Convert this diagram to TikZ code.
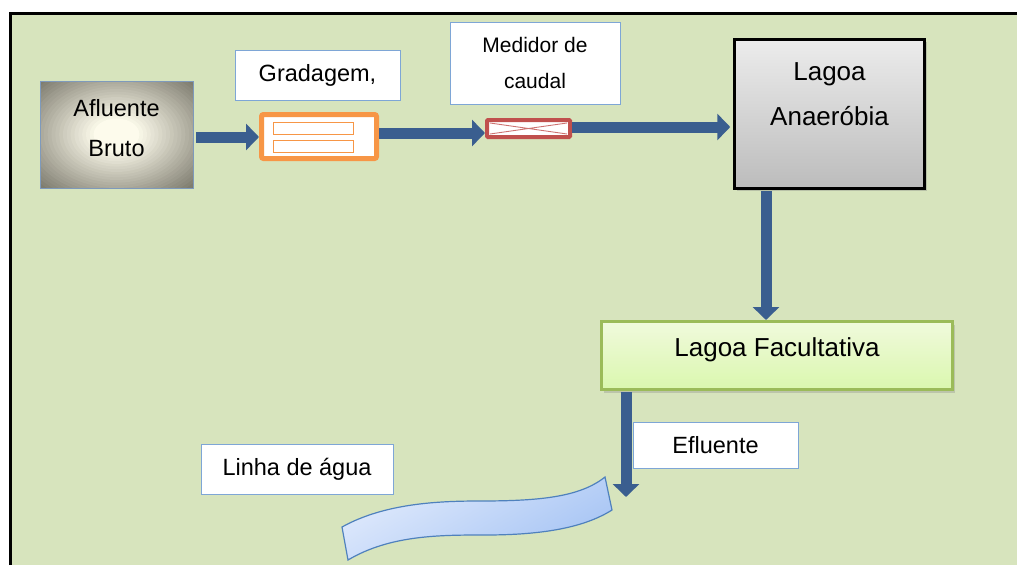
\documentclass[tikz,border=0pt]{standalone}
\usepackage{fontspec}
\setmainfont{Liberation Sans}
\usetikzlibrary{arrows.meta,shadows,calc}
\definecolor{bg}{RGB}{215,228,189}
\definecolor{arr}{RGB}{58,94,143}
\definecolor{lblb}{RGB}{126,166,214}
\definecolor{org}{RGB}{247,150,70}
\definecolor{redb}{RGB}{192,80,77}
\definecolor{grnb}{RGB}{155,187,89}
\definecolor{ribb}{RGB}{79,129,189}
\definecolor{ribl}{RGB}{224,234,252}
\definecolor{ribd}{RGB}{166,196,244}
\definecolor{vigA}{RGB}{253,251,236}
\definecolor{vigD}{RGB}{122,120,107}
\begin{document}
\begin{tikzpicture}[x=1pt,y=-1pt,
  lbl/.style={draw=lblb, line width=0.9pt, fill=white, inner sep=0pt, align=center,
    font=\fontsize{23.5}{38}\selectfont},
  flow/.style={draw=arr, line width=11pt, -{Triangle[length=13pt,width=26pt]}},
  lagoa/.style={inner sep=0pt, align=center, font=\fontsize{26}{45}\selectfont},
  vignette/.style={path picture={
    \foreach \k in {0,...,29}{
      \pgfmathsetmacro\rr{1.5-0.05*\k}
      \pgfmathtruncatemacro\pp{min(100,max(0,(1.45-\rr)/1.15*100))}
      \fill[vigA!\pp!vigD] (path picture bounding box.center)
        ellipse [x radius=\rr*76.5pt, y radius=\rr*53.5pt];
    }}}]
\useasboundingbox (0,0) rectangle (1017,565);
\fill[bg] (11,14) rectangle (1017,565);
\draw[line width=3pt] (10,565) -- (10,13) -- (1017,13);

% Afluente Bruto
\node[draw=lblb!70!gray, line width=0.9pt, minimum width=153pt, minimum height=107pt,
  vignette,
  label={[font=\fontsize{23.5}{40}\selectfont, align=center, yshift=6pt]center:Afluente\\Bruto}]
  (afl) at (116.5,134.5) {};

% Gradagem label and screen
\node[lbl, minimum width=165pt, minimum height=50pt] (lgrad) at (317.5,75) {Gradagem,};
\node[draw=org, line width=5pt, rounded corners=2pt, fill=white, minimum width=115pt,
  minimum height=44pt, inner sep=0pt] (scr) at (319,136.5) {};
\draw[org, line width=1pt] (273.5,122.5) rectangle (353.5,134);
\draw[org, line width=1pt] (273.5,140.5) rectangle (353.5,152);

% Medidor de caudal
\node[lbl, minimum width=170pt, minimum height=82pt, font=\fontsize{21}{36}\selectfont]
  (lmed) at (535,63) {Medidor de\\caudal};
\node[draw=redb, line width=4pt, rounded corners=1pt, fill=white, minimum width=83pt,
  minimum height=17pt, inner sep=0pt] (med) at (528.5,128.5) {};
\draw[redb!80!white, line width=0.9pt] (490,123) -- (567,134) (490,134) -- (567,123);

% Lagoa Anaerobia
\node[draw=black, line width=2.5pt, minimum width=190pt, minimum height=149pt,
  top color={rgb,255:red,236;green,236;blue,236}, bottom color={rgb,255:red,188;green,188;blue,188},
  drop shadow={shadow xshift=2pt, shadow yshift=-2pt, opacity=0.35},
  label={[lagoa, yshift=20pt]center:Lagoa\\Anaeróbia}] (ana) at (829.5,114) {};

% Lagoa Facultativa
\node[draw=grnb, line width=3pt, minimum width=351pt, minimum height=68pt,
  top color={rgb,255:red,240;green,250;blue,220}, bottom color={rgb,255:red,218;green,247;blue,174},
  drop shadow={shadow xshift=2pt, shadow yshift=-3pt, opacity=0.3},
  label={[lagoa, yshift=6pt]center:Lagoa Facultativa}] (fac) at (777,355.5) {};

% Efluente & Linha de agua labels
\node[lbl, minimum width=165pt, minimum height=46pt] (lefl) at (715.5,445) {Efluente};
\node[lbl, minimum width=192pt, minimum height=50pt] (llin) at (297,469) {Linha de água};

% river ribbon
\draw[draw=ribb, line width=1.2pt, shading=axis, top color=ribl, bottom color=ribd, shading angle=30]
  (342,527) .. controls (385,503) and (440,501) .. (480,501)
  .. controls (540,501) and (580,497) .. (605,477)
  -- (612,510)
  .. controls (585,527) and (545,535) .. (485,535)
  .. controls (440,535) and (390,535) .. (348,560) -- cycle;
\coordinate (riv) at (626,497);

% flow arrows
\draw[flow, shorten <=3pt] ([yshift=-2.5pt]afl.east) -- ([yshift=-2.5pt]afl.east -| scr.west);
\draw[flow] ([yshift=3.5pt]scr.east) -- ([yshift=-4.5pt]med.west);
\draw[flow, shorten >=3pt] ([yshift=1.5pt]med.east) -- ([yshift=1.5pt]med.east -| ana.west);
\draw[flow, shorten <=1pt] ([xshift=-63.5pt]ana.south) -- ([xshift=-63.5pt]ana.south |- fac.north);
\draw[flow, shorten <=1pt] ([xshift=-151pt]fac.south) -- ([xshift=-151pt]fac.south |- riv);
\end{tikzpicture}
\end{document}
